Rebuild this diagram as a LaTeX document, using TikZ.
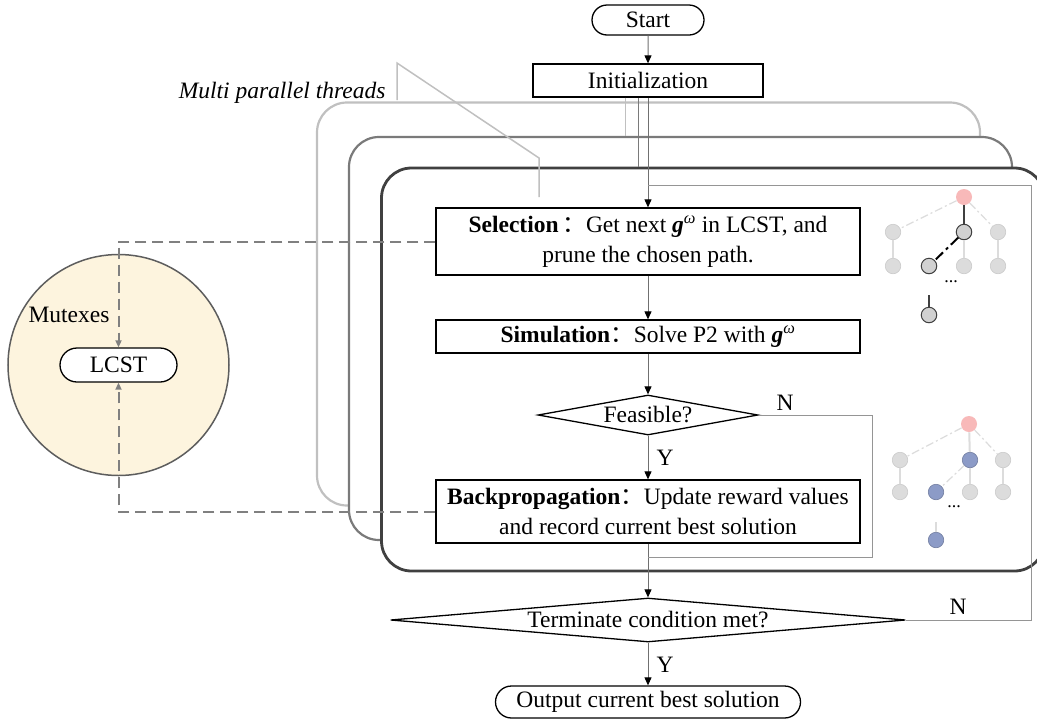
\documentclass[tikz,border=0pt]{standalone}
\usepackage{fontspec}
\setmainfont{Liberation Serif}
\newfontfamily\cjk{Noto Sans CJK SC}
\usetikzlibrary{shapes.geometric,shapes.misc,arrows.meta}

\definecolor{thrlight}{HTML}{C0C0C0}
\definecolor{thrmid}{HTML}{7A7A7A}
\definecolor{thrdark}{HTML}{404040}
\definecolor{flowgray}{HTML}{707070}
\definecolor{loopgray}{HTML}{959595}
\definecolor{mutexgray}{HTML}{808080}
\definecolor{cream}{HTML}{FDF4DE}
\definecolor{nodegray}{HTML}{DCDCDC}
\definecolor{rootpink}{HTML}{F8B9B9}
\definecolor{bluish}{HTML}{8C9BC7}

\newcommand{\gw}{\textbf{\textit{g}}\textsuperscript{\textit{ω}}}
\newcommand{\fwcolon}{{\cjk ：}}

\begin{document}
\begin{tikzpicture}[x=1pt,y=-1pt,
            font=\fontsize{23.5}{30}\selectfont,
            thread box/.style={rectangle, rounded corners=30pt, fill=white, minimum width=663pt, minimum height=403pt, line width=2.2pt},
            proc/.style={rectangle, draw=black, line width=1.3pt, fill=white, minimum width=424pt, align=center, inner sep=2pt},
            term node/.style={rounded rectangle, draw=black, line width=1.3pt, fill=white, inner sep=2pt},
            decision/.style={diamond, draw=black, line width=1.3pt, fill=white, inner sep=0pt},
            flow/.style={draw=flowgray, line width=1pt, -{Triangle[length=8pt,width=7pt,color=black]}},
            loop line/.style={draw=loopgray, line width=1pt},
            mutex line/.style={draw=mutexgray, line width=2pt, dash pattern=on 11pt off 6pt, -{Triangle[length=7pt,width=6pt]}},
            callout/.style={draw=thrlight, line width=1.5pt},
            tree node/.style={circle, minimum size=15.5pt, inner sep=0pt, fill=nodegray, draw=nodegray!92!black, line width=0.6pt},
            hl node/.style={tree node, fill=nodegray!95!black, draw=thrdark, line width=1pt},
            blue node/.style={tree node, fill=bluish, draw=bluish!80!black},
            root node/.style={tree node, fill=rootpink, draw=none, minimum size=16pt},
            light edge/.style={draw=nodegray, line width=2pt},
            light dd/.style={draw=nodegray, line width=1.2pt, dash pattern=on 8pt off 3pt on 2pt off 3pt},
            dark edge/.style={draw=thrdark, line width=1.6pt},
            dark dd/.style={draw=black, line width=2pt, dash pattern=on 10pt off 4pt on 3pt off 4pt},
            ]
            \useasboundingbox (0,0) rectangle (1037,721);

            % parallel threads
            \node[thread box, draw=thrlight] (thr1) at (648.5,304) {};
            \node[thread box, draw=thrmid] (thr2) at (680.5,338.5) {};
            \node[thread box, draw=thrdark, line width=2.8pt] (thr3) at (713,369.5) {};

            % flow chart
            \node[term node, minimum width=116pt, minimum height=30pt] (start) at (648,20) {Start};
            \node[proc, minimum width=230pt, minimum height=33pt] (init) at (648,80.5) {Initialization};
            \node[proc, minimum height=67pt] (sel) at (648,241.5) {\textbf{Selection}\,\fwcolon Get next \gw{} in LCST, and\\prune the chosen path.};
            \node[proc, minimum height=33pt] (sim) at (648,336.5) {\textbf{Simulation}\fwcolon Solve P2 with \gw};
            \node[decision, minimum width=220pt, minimum height=40pt, aspect=5.5] (feas) at (648,415) {Feasible?};
            \node[proc, minimum height=63pt] (bp) at (648,511.5) {\textbf{Backpropagation}\fwcolon Update reward values\\and record current best solution};
            \node[decision, minimum width=515pt, minimum height=44pt, aspect=11.7] (term) at (648,620) {Terminate condition met?};
            \node[term node, minimum width=309pt, minimum height=32pt] (out) at (648,702) {Output current best solution};

            \node (yfeas) at (665,458) {Y};
            \node (nfeas) at (785,403) {N};
            \node (yterm) at (665,665) {Y};
            \node (nterm) at (958,607) {N};

            \coordinate (t1x) at (625,0);
            \coordinate (t2x) at (638,0);
            \coordinate (nFeas) at (872,415);
            \coordinate (feasJoin) at (648,557);
            \coordinate (nTerm) at (1031,620);
            \coordinate (loopTop) at (648,185);

            \draw[flow] (start) -- (init);
            \draw[draw=thrlight, line width=1pt] (init.south -| t1x) -- (thr2.north -| t1x);
            \draw[draw=thrmid, line width=1pt] (init.south -| t2x) -- (thr3.north -| t2x);
            \draw[flow] (init) -- (sel);
            \draw[flow] (sel) -- (sim);
            \draw[flow] (sim) -- (feas);
            \draw[flow] (feas) -- (bp);
            \draw[flow] (bp) -- (term);
            \draw[flow] (term) -- (out);
            \draw[loop line] (feas.east) -- (nFeas) |- (feasJoin);
            \draw[loop line] (term.east) -- (nTerm) |- (loopTop);

            % threads label
            \node[font=\itshape\fontsize{23.5}{30}\selectfont, anchor=east] (mpt) at (389,93) {Multi parallel threads};
            \coordinate (cA) at (397,100);
            \coordinate (cB) at (397,63);
            \coordinate (cC) at (539,158);
            \coordinate (cD) at (539,197);
            \draw[callout] (cA) -- (cB) -- (cC) -- (cD);

            % shared tree with mutexes
            \node[circle, draw=thrdark!85, fill=cream, minimum size=221pt, line width=1.5pt] (mutex) at (118.5,365) {};
            \node (mutexlbl) at (69,315) {Mutexes};
            \node[term node, minimum width=121pt, minimum height=34pt] (lcst) at (118.5,365) {LCST};
            \draw[mutex line] (sel.west) -| (lcst.north);
            \draw[mutex line] (bp.west) -| (lcst.south);

            % tree after selection
            \node[root node] (sroot) at (964,197) {};
            \node[tree node] (sa1) at (893,232) {};
            \node[hl node] (sa2) at (964,232) {};
            \node[tree node] (sa3) at (998,232) {};
            \node[tree node] (sb1) at (893,266) {};
            \node[hl node] (sb2) at (929,266) {};
            \node[tree node] (sb3) at (964,266) {};
            \node[tree node] (sb4) at (998,266) {};
            \node[font=\fontsize{18}{18}\selectfont] (sdots) at (951,282) {...};
            \node[hl node] (sc) at (929,315) {};
            \coordinate (sctop) at (929,295);
            \draw[light dd] (sroot) -- (sa1);
            \draw[dark edge] (sroot) -- (sa2);
            \draw[light dd] (sroot) -- (sa3);
            \draw[light edge] (sa1) -- (sb1);
            \draw[dark dd] (sa2) -- (sb2);
            \draw[light edge] (sa2) -- (sb3);
            \draw[light edge] (sa3) -- (sb4);
            \draw[dark edge] (sctop) -- (sc);

            % tree after backpropagation
            \node[root node] (broot) at (969,424) {};
            \node[tree node] (ba1) at (900,460) {};
            \node[blue node] (ba2) at (970,460) {};
            \node[tree node] (ba3) at (1003,460) {};
            \node[tree node] (bb1) at (900,492) {};
            \node[blue node] (bb2) at (936,492) {};
            \node[tree node] (bb3) at (970,492) {};
            \node[tree node] (bb4) at (1003,492) {};
            \node[font=\fontsize{18}{18}\selectfont] (bdots) at (954,507) {...};
            \node[blue node] (bc) at (936,540) {};
            \coordinate (bctop) at (936,522);
            \draw[light dd] (broot) -- (ba1);
            \draw[light edge] (broot) -- (ba2);
            \draw[light dd] (broot) -- (ba3);
            \draw[light edge] (ba1) -- (bb1);
            \draw[light dd] (ba2) -- (bb2);
            \draw[light edge] (ba2) -- (bb3);
            \draw[light edge] (ba3) -- (bb4);
            \draw[light edge] (bctop) -- (bc);
        \end{tikzpicture}
\end{document}
